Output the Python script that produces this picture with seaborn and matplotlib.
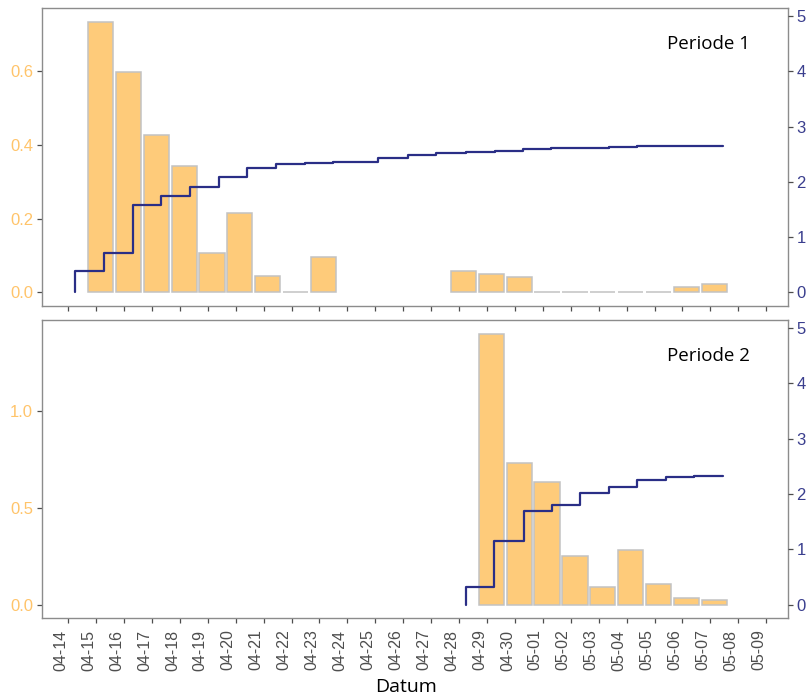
import matplotlib
matplotlib.use("Agg")
import matplotlib.pyplot as plt
import matplotlib.dates as mdates
import pandas as pd
import seaborn as sns

# ---- data -------------------------------------------------------------
# Period 1: daily values (bars) and running total (step line)
p1_bar_times = ["2021-04-15 03:36", "2021-04-16 03:36", "2021-04-17 03:36",
                "2021-04-18 03:36", "2021-04-19 03:36", "2021-04-20 03:36",
                "2021-04-21 03:36", "2021-04-22 03:36", "2021-04-23 03:36",
                "2021-04-28 03:36", "2021-04-29 03:36", "2021-04-30 03:36",
                "2021-05-01 03:36", "2021-05-02 03:36", "2021-05-03 03:36",
                "2021-05-04 03:36", "2021-05-05 03:36", "2021-05-06 03:36",
                "2021-05-07 03:36"]
p1_bar_values = [0.735, 0.597, 0.426, 0.343, 0.107, 0.215, 0.044, 0.0, 0.096,
                 0.057, 0.050, 0.043, 0.0, 0.0, 0.0, 0.0, 0.0, 0.015, 0.024]

p1_cum_times = ["2021-04-14 05:46", "2021-04-15 06:58", "2021-04-16 07:55",
                "2021-04-17 07:55", "2021-04-18 08:38", "2021-04-19 09:22",
                "2021-04-20 09:50", "2021-04-21 10:34", "2021-04-22 11:31",
                "2021-04-23 11:46", "2021-04-25 02:24", "2021-04-26 03:50",
                "2021-04-27 04:34", "2021-04-28 05:31", "2021-04-29 06:43",
                "2021-04-30 07:12", "2021-05-01 07:26", "2021-05-02 07:55",
                "2021-05-03 08:53", "2021-05-04 08:38", "2021-05-05 09:36",
                "2021-05-07 10:34"]
p1_cum_values = [0.0, 0.38, 0.717, 1.59, 1.75, 1.90, 2.08, 2.245, 2.32, 2.335,
                 2.36, 2.44, 2.485, 2.52, 2.54, 2.56, 2.59, 2.605, 2.62, 2.625,
                 2.64, 2.655]

# Period 2
p2_bar_times = ["2021-04-29 03:36", "2021-04-30 03:36", "2021-05-01 03:36",
                "2021-05-02 03:36", "2021-05-03 03:36", "2021-05-04 03:36",
                "2021-05-05 03:36", "2021-05-06 03:36", "2021-05-07 03:36"]
p2_bar_values = [1.40, 0.734, 0.635, 0.250, 0.094, 0.285, 0.106, 0.033, 0.024]

p2_cum_times = ["2021-04-28 05:46", "2021-04-29 06:14", "2021-04-30 07:26",
                "2021-05-01 07:55", "2021-05-02 07:55", "2021-05-03 08:53",
                "2021-05-04 09:07", "2021-05-05 09:50", "2021-05-06 10:05",
                "2021-05-07 10:34"]
p2_cum_values = [0.0, 0.325, 1.16, 1.70, 1.805, 2.015, 2.12, 2.256, 2.30, 2.32]

panel_labels = ["Periode 1", "Periode 2"]
left_ticks = [[0.0, 0.2, 0.4, 0.6], [0.0, 0.5, 1.0]]
right_ticks = [0, 1, 2, 3, 4, 5]
tick_days = pd.date_range("2021-04-14", "2021-05-09", freq="D")
x_title = "Datum"

# ---- style ------------------------------------------------------------
BAR_FILL = "#FECB7A"
BAR_EDGE = "#C2C2C2"
LINE_COL = "#2A2E86"
LEFT_LAB = "#FFC46A"
RIGHT_LAB = "#3A3E8E"
FRAME = "#8C8C8C"
TICK_COL = "#4D4D4D"

sns.set_theme(style="ticks")
plt.rcParams["font.family"] = ["Liberation Sans", "DejaVu Sans"]

fig = plt.figure(figsize=(8.12, 6.94), dpi=100)
panel_boxes = [[0.0517, 0.5591, 0.9187, 0.4294],
               [0.0517, 0.1091, 0.9187, 0.4298]]

panels = [
    (p1_bar_times, p1_bar_values, p1_cum_times, p1_cum_values),
    (p2_bar_times, p2_bar_values, p2_cum_times, p2_cum_values),
]

tick_nums = mdates.date2num(tick_days)
x_lo = tick_nums[0] - 0.94
x_hi = tick_nums[-1] + 0.78
right_top = 4.9

for i, (bt, bv, ct, cv) in enumerate(panels):
    ax = fig.add_axes(panel_boxes[i])
    bx = mdates.date2num(pd.to_datetime(bt))
    sns.barplot(x=bx, y=bv, native_scale=True, orient="x", width=0.9,
                color=BAR_FILL, saturation=1, edgecolor=BAR_EDGE,
                linewidth=1.1, errorbar=None, ax=ax)

    top = max(bv)
    ax.set_ylim(-0.05 * top, 1.05 * top)
    ax.set_xlim(x_lo, x_hi)
    ax.set_yticks(left_ticks[i])
    ax.set_yticklabels([f"{t:.1f}" for t in left_ticks[i]])
    ax.set_xticks(tick_nums)
    ax.xaxis.set_major_formatter(mdates.DateFormatter("%m-%d"))
    ax.set_xlabel("")
    ax.set_ylabel("")
    for s in ax.spines.values():
        s.set_visible(True)
        s.set_color(FRAME)
        s.set_linewidth(1.0)
    ax.tick_params(axis="both", direction="out", length=3.6, width=0.9,
                   color=TICK_COL, pad=2.8)
    ax.tick_params(axis="y", labelcolor=LEFT_LAB, labelsize=12)
    ax.tick_params(axis="x", labelcolor="#4D4D4D", labelsize=11.5, pad=4.5)
    if i == 0:
        ax.tick_params(axis="x", labelbottom=False)
    else:
        for lab in ax.get_xticklabels():
            lab.set_rotation(90)
            lab.set_ha("right")
            lab.set_va("top")

    ax2 = ax.twinx()
    cx = mdates.date2num(pd.to_datetime(ct))
    sns.lineplot(x=cx, y=cv, ax=ax2, color=LINE_COL, linewidth=1.6,
                 drawstyle="steps-pre", estimator=None, sort=False,
                 legend=False)
    ax2.set_ylim(-0.05 * right_top, 1.05 * right_top)
    ax2.set_yticks(right_ticks)
    ax2.set_yticklabels([str(t) for t in right_ticks])
    ax2.set_ylabel("")
    for s in ax2.spines.values():
        s.set_visible(False)
    ax2.tick_params(axis="y", direction="out", length=3.6, width=0.9,
                    color=TICK_COL, labelsize=12, labelcolor=RIGHT_LAB, pad=2.5)
    ax.set_xlim(x_lo, x_hi)

    ax2.text(0.949, 0.862, panel_labels[i], transform=ax2.transAxes,
             ha="right", va="baseline", fontsize=13.5,
             family=["Open Sans", "DejaVu Sans"], color="black")

    if i == 1:
        ax.set_xlabel(x_title, fontsize=14, family=["Open Sans", "DejaVu Sans"],
                      color="black")
        ax.xaxis.set_label_coords(0.5, 2.5 / 694, transform=fig.transFigure)
        ax.xaxis.label.set_va("baseline")

fig.savefig("out.png", dpi=100)
